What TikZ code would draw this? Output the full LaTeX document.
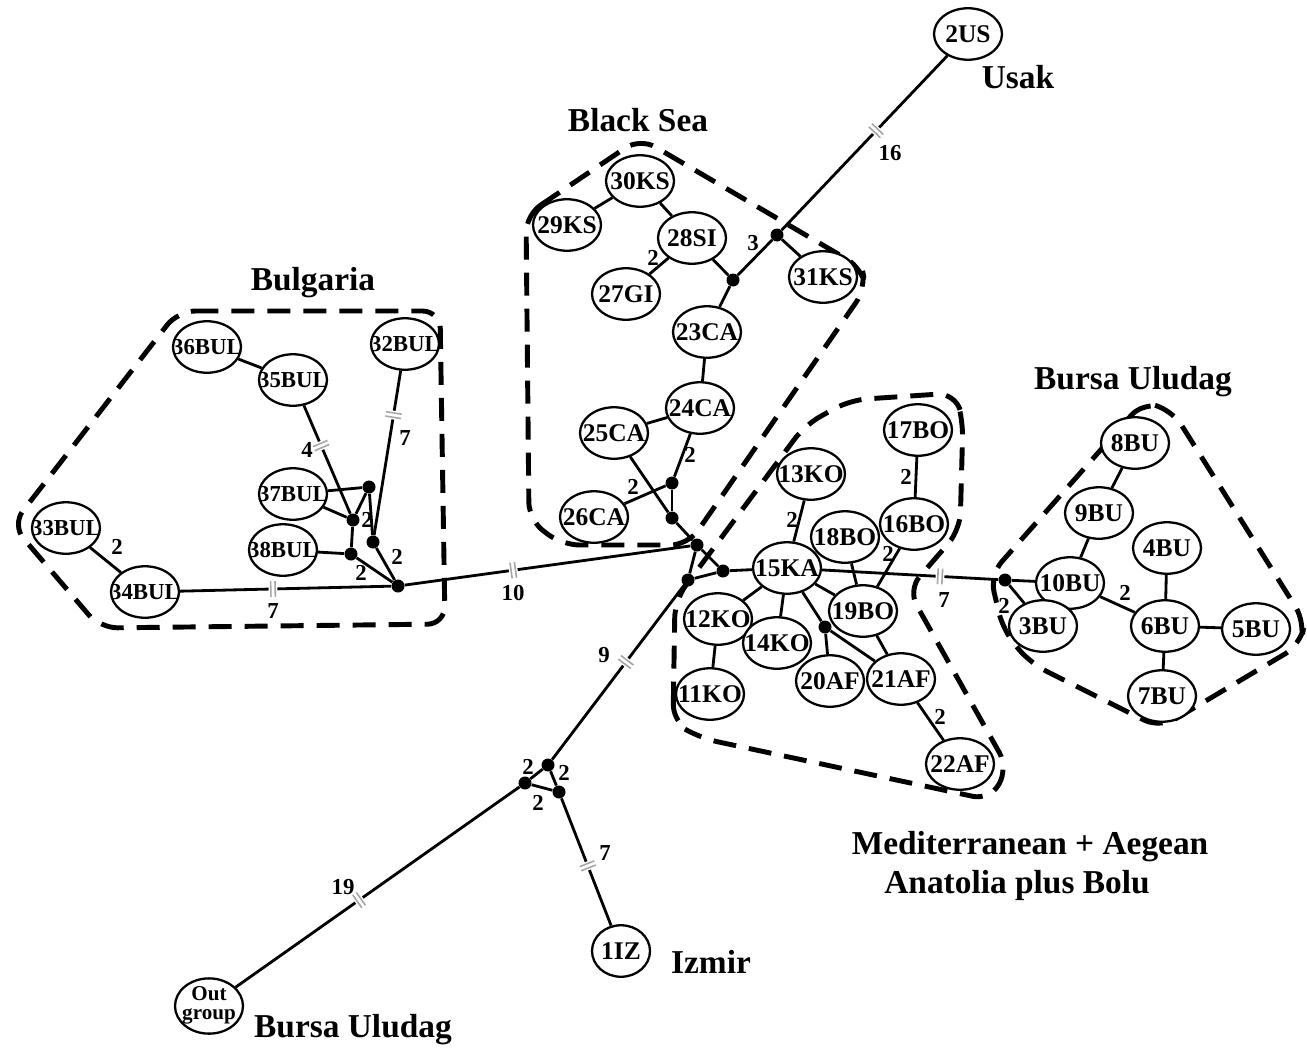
\documentclass[tikz,border=0pt]{standalone}
\usepackage{fontspec}
\setmainfont{Liberation Serif}
\usetikzlibrary{shapes.geometric, positioning, calc}
\newcommand{\lbl}[1]{\makebox[0pt]{#1}}
\newcommand{\mutmark}{\color{gray!70}\rule{0.9pt}{9pt}\hspace{1.6pt}\rule{0.9pt}{9pt}}
\tikzset{
    % haplotype ellipses
    hap/.style={
           ellipse,
           draw=black, line width=1.3pt,
           fill=white,
           inner sep=0pt,
           minimum width=1.36cm,
           minimum height=1.03cm,
           font=\fontsize{14.5}{15}\selectfont\bfseries},
    bul/.style={hap, font=\fontsize{13}{14}\selectfont\bfseries},
    % median vectors
    jn/.style={circle, fill=black, inner sep=0pt, minimum size=0.26cm},
    % links
    lien/.style={line width=1.6pt},
    % mutation steps
    brk/.style={sloped, fill=white, inner xsep=0.8pt, inner ysep=0pt},
    nb/.style={font=\fontsize{13}{13}\selectfont\bfseries, inner sep=1pt},
    reg/.style={font=\fontsize{19}{21}\selectfont\bfseries, inner sep=0pt},
    % group borders
    grp/.style={dash pattern=on 0.46cm off 0.26cm, line width=2.8pt, rounded corners=0.35cm}
}
\begin{document}
\begin{tikzpicture}[x=0.02cm, y=-0.02cm]
	\useasboundingbox (0,0) rectangle (1307,1051);
	\fill[white] (0,0) rectangle (1307,1051);
	%
	% groups
	%
	\draw[grp] (178,311) -- (440,311) -- (445,624) -- (100,628) -- (12,525) -- cycle;
	\draw[grp] (526,215) -- (640,138) -- (862,268) -- (866,288) -- (688,545) -- (562,545) -- (529,520) -- cycle;
	\draw[grp] (673,722) -- (675,600) -- (805,425) -- (850,400) -- (955,393) -- (963,420) -- (960,530) -- (908,590) -- (1008,768) -- (990,800) -- (700,738) -- cycle;
	\draw[grp] (1143,402) -- (990,575) -- (1003,630) -- (1030,663) -- (1160,728) -- (1300,645) -- (1305,622) -- (1172,410) -- cycle;
	%
	% nodes
	%
	\node[hap] (us2) at (968,34) {\lbl{2US}};
	\node[hap] (ks30) at (640,181) {\lbl{30KS}};
	\node[hap] (ks29) at (567,225) {\lbl{29KS}};
	\node[hap] (si28) at (692,238) {\lbl{28SI}};
	\node[hap] (gi27) at (626,294) {\lbl{27GI}};
	\node[hap] (ks31) at (823,277) {\lbl{31KS}};
	\node[hap] (ca23) at (707,332) {\lbl{23CA}};
	\node[hap] (ca24) at (700,408) {\lbl{24CA}};
	\node[hap] (ca25) at (614,433) {\lbl{25CA}};
	\node[hap] (ca26) at (594,517) {\lbl{26CA}};
	%
	\node[bul] (bul36) at (207,347) {\lbl{36BUL}};
	\node[bul] (bul35) at (293,380) {\lbl{35BUL}};
	\node[bul] (bul32) at (405,344) {\lbl{32BUL}};
	\node[bul] (bul37) at (293,494) {\lbl{37BUL}};
	\node[bul] (bul38) at (283,550) {\lbl{38BUL}};
	\node[bul] (bul33) at (66,528) {\lbl{33BUL}};
	\node[bul] (bul34) at (145,592) {\lbl{34BUL}};
	%
	\node[hap] (bo17) at (918,430) {\lbl{17BO}};
	\node[hap] (bo16) at (914,524) {\lbl{16BO}};
	\node[hap] (ko13) at (811,474) {\lbl{13KO}};
	\node[hap] (bo18) at (845,537) {\lbl{18BO}};
	\node[hap] (ka15) at (787,568) {\lbl{15KA}};
	\node[hap] (bo19) at (863,611) {\lbl{19BO}};
	\node[hap] (ko12) at (718,619) {\lbl{12KO}};
	\node[hap] (ko14) at (777,643) {\lbl{14KO}};
	\node[hap] (ko11) at (710,694) {\lbl{11KO}};
	\node[hap] (af20) at (830,681) {\lbl{20AF}};
	\node[hap] (af21) at (901,679) {\lbl{21AF}};
	\node[hap] (af22) at (960,764) {\lbl{22AF}};
	%
	\node[hap] (bu8) at (1135,443) {\lbl{8BU}};
	\node[hap] (bu9) at (1099,513) {\lbl{9BU}};
	\node[hap] (bu4) at (1167,548) {\lbl{4BU}};
	\node[hap] (bu10) at (1070,583) {\lbl{10BU}};
	\node[hap] (bu3) at (1043,626) {\lbl{3BU}};
	\node[hap] (bu6) at (1165,626) {\lbl{6BU}};
	\node[hap] (bu5) at (1256,629) {\lbl{5BU}};
	\node[hap] (bu7) at (1162,696) {\lbl{7BU}};
	%
	\node[hap, minimum width=1.16cm] (iz1) at (621,951) {\lbl{1IZ}};
	\node[hap, minimum height=0.96cm, font=\fontsize{12}{11}\selectfont\bfseries] (out) at (209,1006)
	     {\lbl{\begin{tabular}{@{}c@{}}Out\\group\end{tabular}}};
	%
	% median vectors
	%
	\node[jn] (j3) at (777,235) {};
	\node[jn] (j28) at (733,280) {};
	\node[jn] (ja) at (672,483) {};
	\node[jn] (jb) at (672,518) {};
	\node[jn] (jc) at (697,545) {};
	\node[jn] (jd) at (723,571) {};
	\node[jn] (je) at (688,580) {};
	\node[jn] (jf) at (825,627) {};
	\node[jn] (jbu) at (1005,580) {};
	\node[jn] (jbg) at (398,586) {};
	\node[jn] (g1) at (369,487) {};
	\node[jn] (g2) at (353,520) {};
	\node[jn] (g3) at (373,542) {};
	\node[jn] (g4) at (351,554) {};
	\node[jn] (ji) at (548,765) {};
	\node[jn] (jil) at (525,783) {};
	\node[jn] (jir) at (559,792) {};
	%
	% links
	%
	\draw[lien] (j3) -- node[brk, pos=.57] (h16) {\mutmark} (us2);
	\draw[lien] (j3) -- (ks31);
	\draw[lien] (j3) -- (j28);
	\draw[lien] (j28) -- (si28);
	\draw[lien] (j28) -- (ca23);
	\draw[lien] (si28) -- (ks30);
	\draw[lien] (ks30) -- (ks29);
	\draw[lien] (si28) -- (gi27);
	\draw[lien] (ca23) -- (ca24);
	\draw[lien] (ca24) -- (ca25);
	\draw[lien] (ca24) -- (ja);
	\draw[lien] (ca26) -- (ja);
	\draw[lien] (ja) -- (jb);
	\draw[lien] (ca25) -- (jb);
	\draw[lien] (jb) -- (jc);
	\draw[lien] (jc) -- (jd);
	\draw[lien] (jc) -- (je);
	\draw[lien] (jd) -- (je);
	\draw[lien] (jd) -- (ka15);
	\draw[lien] (jbg) -- node[brk, pos=.38] (h10) {\mutmark} (jc);
	\draw[lien] (je) -- node[brk, pos=.44] (h9) {\mutmark} (ji);
	%
	\draw[lien] (bul34) -- node[brk, pos=.44] (h7a) {\mutmark} (jbg);
	\draw[lien] (bul33) -- (bul34);
	\draw[lien] (bul36) -- (bul35);
	\draw[lien] (bul35) -- node[brk, pos=.37] (h4) {\mutmark} (g2);
	\draw[lien] (bul37) -- (g1);
	\draw[lien] (bul37) -- (g2);
	\draw[lien] (g1) -- (g2);
	\draw[lien] (g1) -- (g3);
	\draw[lien] (bul32) -- node[brk, pos=.27] (h7b) {\mutmark} (g3);
	\draw[lien] (g2) -- (g4);
	\draw[lien] (bul38) -- (g4);
	\draw[lien] (g4) -- (jbg);
	\draw[lien] (g3) -- (jbg);
	%
	\draw[lien] (ka15) -- (ko13);
	\draw[lien] (ka15) -- (ko12);
	\draw[lien] (ka15) -- (ko14);
	\draw[lien] (ka15) -- (bo19);
	\draw[lien] (ka15) -- (jf);
	\draw[lien] (jf) -- (af20);
	\draw[lien] (jf) -- (af21);
	\draw[lien] (ka15) -- node[brk, pos=.67] (h7c) {\mutmark} (jbu);
	\draw[lien] (bo18) -- (bo19);
	\draw[lien] (bo16) -- (bo19);
	\draw[lien] (bo17) -- (bo16);
	\draw[lien] (ko12) -- (ko11);
	\draw[lien] (bo19) -- (af21);
	\draw[lien] (af21) -- (af22);
	%
	\draw[lien] (jbu) -- (bu10);
	\draw[lien] (jbu) -- (bu3);
	\draw[lien] (bu10) -- (bu9);
	\draw[lien] (bu9) -- (bu8);
	\draw[lien] (bu10) -- (bu6);
	\draw[lien] (bu6) -- (bu4);
	\draw[lien] (bu6) -- (bu5);
	\draw[lien] (bu6) -- (bu7);
	%
	\draw[lien] (ji) -- (jil);
	\draw[lien] (ji) -- (jir);
	\draw[lien] (jil) -- (jir);
	\draw[lien] (jil) -- node[brk, pos=.565] (h19) {\mutmark} (out);
	\draw[lien] (jir) -- node[brk, pos=.53] (h7d) {\mutmark} (iz1);
	%
	% steps
	%
	\node[nb] (t16) at (890,153) {16};
	\node[nb] (t3) at (753,243) {3};
	\node[nb] (t27) at (653,258) {2};
	\node[nb] (t24) at (690,455) {2};
	\node[nb] (t26) at (633,487) {2};
	\node[nb] (t10) at (513,593) {10};
	\node[nb] (t9) at (604,655) {9};
	\node[nb] (t34) at (273,611) {7};
	\node[nb] (t33) at (117,547) {2};
	\node[nb] (t35) at (307,450) {4};
	\node[nb] (t32) at (405,438) {7};
	\node[nb] (tg1) at (367,520) {2};
	\node[nb] (tg3) at (397,557) {2};
	\node[nb] (tg4) at (361,573) {2};
	\node[nb] (t13) at (792,520) {2};
	\node[nb] (t17) at (906,477) {2};
	\node[nb] (t16b) at (888,554) {2};
	\node[nb] (t22) at (940,717) {2};
	\node[nb] (t7) at (944,600) {7};
	\node[nb] (tbu3) at (1004,606) {2};
	\node[nb] (tbu6) at (1125,593) {2};
	\node[nb] (ti1) at (528,767) {2};
	\node[nb] (ti2) at (564,773) {2};
	\node[nb] (ti3) at (538,803) {2};
	\node[nb] (t19) at (343,887) {19};
	\node[nb] (tiz) at (605,853) {7};
	%
	% regions
	%
	\node[reg] (bulg) at (313,283) {Bulgaria};
	\node[reg] (bsea) at (638,120) {Black Sea};
	\node[reg] (usak) at (1018,77) {Usak};
	\node[reg] (bursa) at (1133,382) {Bursa Uludag};
	\node[reg] (medit) at (1030,847) {Mediterranean + Aegean};
	\node[reg] (anat) at (1017,885) {Anatolia plus Bolu};
	\node[reg] (izmir) at (711,962) {Izmir};
	\node[reg] (bursab) at (353,1030) {Bursa Uludag};
\end{tikzpicture}
\end{document}
